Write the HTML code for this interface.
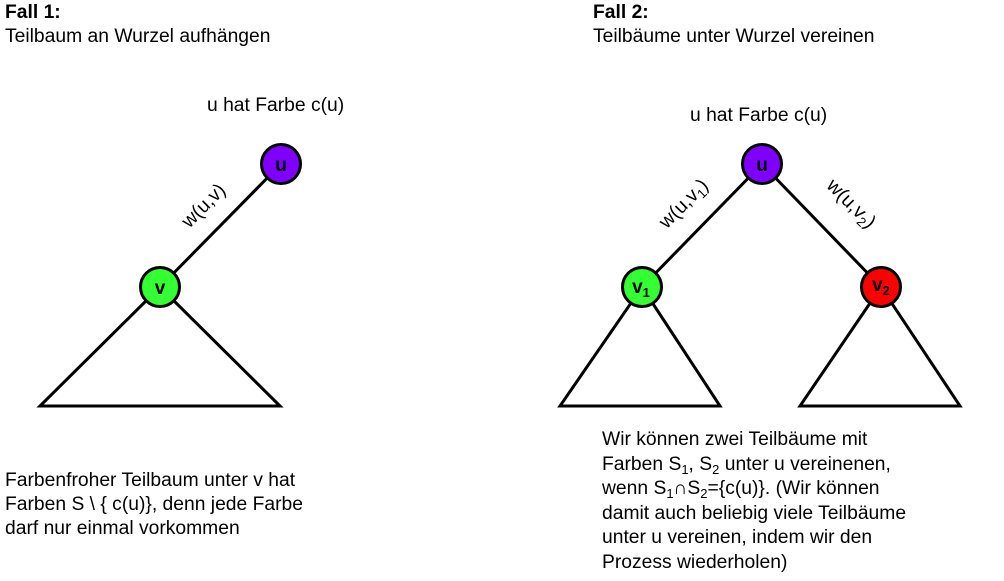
<!DOCTYPE html>
<html><head><meta charset="utf-8"><style>
body{margin:0;background:#fff;width:1004px;height:581px;overflow:hidden;font-family:"Liberation Sans",Arial,sans-serif;}
svg{position:absolute;left:0;top:0}
.t{position:absolute;font-size:19.3px;color:#000;line-height:24px;white-space:nowrap}
sub{font-size:13px;vertical-align:-4px;line-height:0}
</style></head><body>
<svg width="1004" height="581" font-family="Liberation Sans, Arial, sans-serif">
<g stroke="#000" stroke-width="3" fill="none">
<line x1="160" y1="287" x2="281" y2="164"/>
<polygon points="160,287 40,406 280,406"/>
<line x1="642" y1="287" x2="762" y2="164"/>
<line x1="881" y1="287" x2="762" y2="164"/>
<polygon points="642,287 560,406 720,406"/>
<polygon points="881,287 800,406 960,406"/>
</g>
<g stroke="#000" stroke-width="3">
<circle cx="281" cy="164" r="19.5" fill="#7f00ff"/>
<circle cx="160" cy="287" r="19.5" fill="#33ff33"/>
<circle cx="762" cy="164" r="19.5" fill="#7f00ff"/>
<circle cx="642" cy="287" r="19.5" fill="#33ff33"/>
<circle cx="881" cy="287" r="19.5" fill="#ff0000"/>
</g>
<g font-weight="bold" font-size="19" text-anchor="middle" fill="#000">
<text x="281" y="171">u</text>
<text x="160" y="294">v</text>
<text x="762" y="171">u</text>
<text x="641" y="293">v<tspan font-size="13" dy="4">1</tspan></text>
<text x="881" y="291">v<tspan font-size="13" dy="4">2</tspan></text>
</g>
<g font-size="19.5" fill="#000" text-anchor="middle">
<text transform="translate(208,210) rotate(-45)">w(u,v)</text>
<text transform="translate(688,208) rotate(-45)">w(u,v<tspan font-size="13" dy="4">1</tspan><tspan dy="-4">)</tspan></text>
<text transform="translate(847,208) rotate(45)">w(u,v<tspan font-size="13" dy="4">2</tspan><tspan dy="-4">)</tspan></text>
</g>
</svg>
<div class="t" style="left:5px;top:1px"><b>Fall 1:</b><br>Teilbaum an Wurzel aufhängen</div>
<div class="t" style="left:593px;top:1px"><b>Fall 2:</b><br>Teilbäume unter Wurzel vereinen</div>
<div class="t" style="left:207px;top:94px">u hat Farbe c(u)</div>
<div class="t" style="left:690px;top:104px">u hat Farbe c(u)</div>
<div class="t" style="left:5px;top:469px">Farbenfroher Teilbaum unter v hat<br>Farben S \ { c(u)}, denn jede Farbe<br>darf nur einmal vorkommen</div>
<div class="t" style="left:602px;top:428px;line-height:24.5px">Wir können zwei Teilbäume mit<br>Farben S<sub>1</sub>, S<sub>2</sub> unter u vereinenen,<br>wenn S<sub>1</sub>∩S<sub>2</sub>={c(u)}. (Wir können<br>damit auch beliebig viele Teilbäume<br>unter u vereinen, indem wir den<br>Prozess wiederholen)</div>
</body></html>
